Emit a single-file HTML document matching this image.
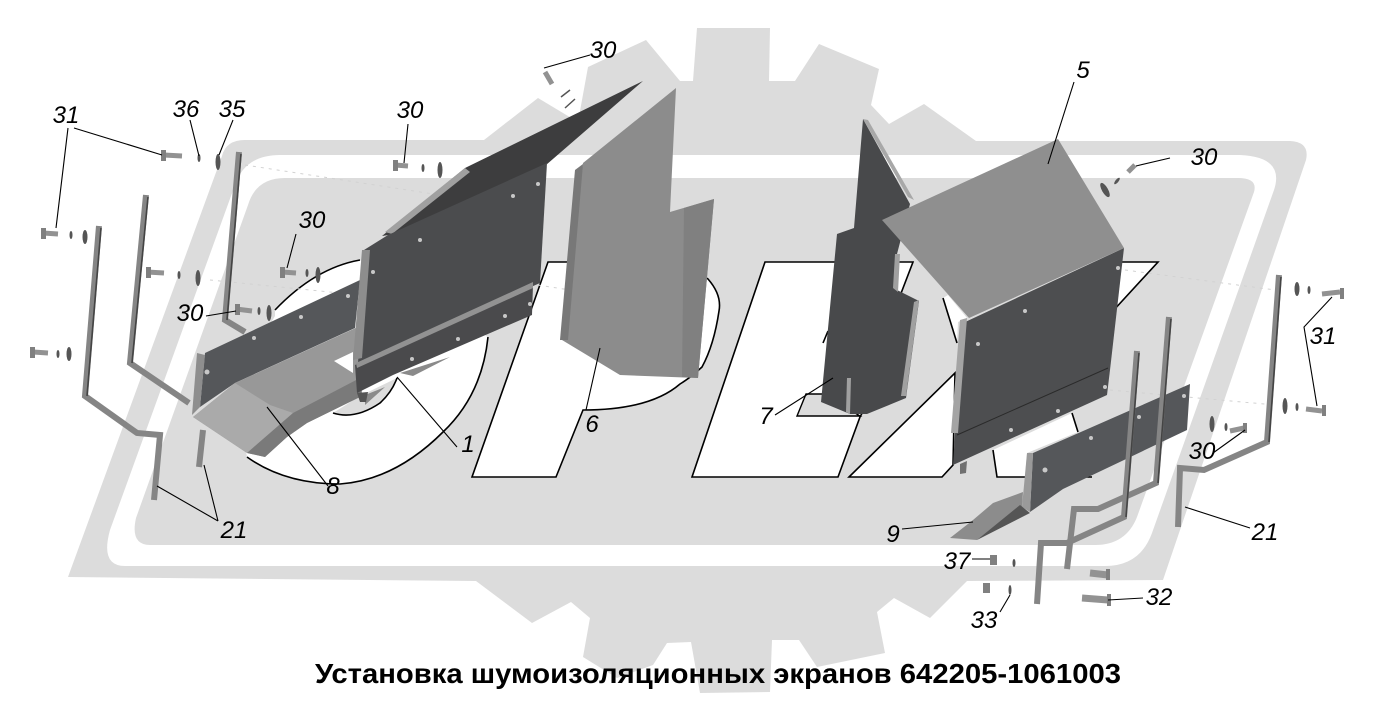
<!DOCTYPE html>
<html><head><meta charset="utf-8"><style>
html,body{margin:0;padding:0;background:#fff;width:1378px;height:722px;overflow:hidden}
svg{display:block}
.l{font:italic 24px "Liberation Sans",sans-serif;fill:#000;text-anchor:middle}
.t{font:bold 28px "Liberation Sans",sans-serif;fill:#000;text-anchor:middle}
.b{fill:none;stroke:#000;stroke-width:1.6}
.n{fill:none;stroke:#000;stroke-width:1.1}
.br{fill:none;stroke:#858585;stroke-width:6;stroke-linejoin:miter}
.brd{fill:none;stroke:#444;stroke-width:1.6}
.bolt{stroke:#929292;stroke-width:5;fill:none}
</style></head><body>
<svg width="1378" height="722" viewBox="0 0 1378 722" xmlns="http://www.w3.org/2000/svg">
<!-- gear and frame -->
<path fill="#dcdcdc" d="M222 156Q226 140 245 140L484 140L538 98L578 122L588 67L646 40L680 81L693 81L697 28L770 28L769 81L795 81L819 44L879 69L871 105L889 124L924 104L976 141L1290 141Q1310 142 1306 160L1163 580L967 581L930 618L894 598L877 612L885 653L817 667L799 640L772 640L770 692L700 693L691 642L667 643L653 665L617 678L583 657L590 618L571 602L532 623L476 581L68 577Z"/>
<path fill="#fff" d="M235 185Q245 155 280 155L1240 155Q1285 157 1274 190L1152 533Q1140 566 1105 566L125 566Q100 566 110 530Z"/>
<path fill="#dcdcdc" d="M248 205Q256 178 285 178L1238 178Q1258 178 1254 192L1137 517Q1126 545 1095 545L150 545Q130 545 136 518Z"/>
<!-- ellipse -->
<path fill="#fff" d="M275 316L275 310Q315 268 360 260L488 337Q482 395 443 432Q395 480 340 484Q285 484 247 457L235 385Z"/>
<path fill="#dcdcdc" d="M333 413Q355 420 380 403Q392 392 397 378L360 396Z"/>
<path class="b" d="M247 457Q285 484 340 484Q395 480 443 432Q482 395 488 337M275 310Q315 268 360 260M333 413Q355 420 380 403Q392 392 397 378"/>
<!-- letters -->
<path fill="#fff" stroke="#000" stroke-width="1.6" d="M548 262L680 262L708 279Q722 295 719 311Q714 345 702 367Q690 378 680 384Q650 410 583 410L556 477L472 477Z"/>
<path fill="#fff" stroke="#000" stroke-width="1.6" d="M765 262L913 262L900 296L880 380L860 417L838 477L692 477Z"/>
<path fill="#dcdcdc" stroke="#000" stroke-width="1.4" d="M797 416L806 394L825 394L860 416Z"/>
<path class="b" d="M823 343L828 331"/>
<path fill="#fff" stroke="#000" stroke-width="1.6" d="M955 373L849 477L942 477L953 465Z"/>
<path fill="#fff" stroke="#000" stroke-width="1.6" d="M1120 262L1158 262L1112 312Z"/>
<path fill="#fff" d="M943 298L948 295L967 318L958 322L957 343Z"/>
<path class="b" d="M943 298L957 343"/>
<path fill="#fff" d="M993 450L1072 413L1078 432L1027 453L1025 477L997 477Z"/>
<path class="b" d="M993 450L997 477L1027 477M1072 413L1078 432M1085 477L1092 477"/>
<!-- dashed axis hints -->
<g stroke="#d2d2d2" stroke-width="1" stroke-dasharray="3 5" fill="none">
<path d="M245 165L440 195M210 280L360 295M538 285L570 290M1125 270L1275 290M1110 390L1275 405"/>
</g>
<!-- left lower panel -->
<path fill="#55575a" d="M205 353L360 280L355 328L235 383L200 407Z"/>
<path fill="#8e8e8e" d="M192 415L197 353L205 355L200 407Z"/>
<path fill="#989898" d="M193 417L235 383L360 326L362 396L307 423L287 437L265 457L247 453Z"/>
<path fill="#aaa" d="M193 417L235 383L270 405L293 413L247 453Z"/>
<path fill="#7a7a7a" d="M247 453L265 457L287 437L307 423L362 396L360 378L293 413Z"/>
<path fill="#fff" d="M334 361L353 352L353 373Z"/>
<path fill="#8a8a8a" d="M400 373L450 357L413 376Z"/>
<path fill="#8a8a8a" d="M365 395L385 387L365 405Z"/>
<path fill="#555" d="M357 393L368 392L366 402L360 402Z"/>
<!-- left upper panel -->
<path fill="#3d3d3e" d="M382 236L465 168L643 81L546 165L395 234Z"/>
<path fill="#a0a0a0" d="M385 232L465 168L470 172L392 234Z"/>
<path fill="#4b4c4e" d="M364 250L388 235L547 163L540 283L358 364Z"/>
<path fill="#8d8d8d" d="M362 250L370 250L362 358L353 360Z"/>
<path fill="#4a4a4c" d="M355 365L533 285L532 315L393 375L357 393Z"/>
<path fill="#929292" d="M356 363L533 282L533 288L357 368Z"/>
<!-- panel 6 -->
<path fill="#8c8c8c" d="M583 163L676 88L670 212L714 199L698 378L620 375L562 340Z"/>
<path fill="#787878" d="M575 170L583 164L568 340L560 340Z"/>
<path fill="#808080" d="M684 208L714 199L698 378L682 377Z"/>
<!-- panel 7 -->
<path fill="#48494b" d="M863 119L910 204L897 254L895 289L919 301L906 398L867 414L850 414L821 402L837 234L854 228Z"/>
<path fill="#a8a8a8" d="M863 119L868 120L914 200L908 197Z"/>
<path fill="#a0a0a0" d="M895 254L900 254L898 292L893 288ZM914 302L919 300L906 396L901 396ZM847 378L851 378L850 414L846 412Z"/>
<!-- panel 5 -->
<path fill="#4d4e50" d="M963 323L1124 248L1110 370L1107 395L953 465L955 434Z"/>
<path fill="#8f8f8f" d="M1058 139L1124 248L969 318L882 220Z"/>
<path fill="#a4a4a4" d="M960 320L967 318L958 433L951 433Z"/>
<path stroke="#2a2a2a" stroke-width="1" d="M957 435L1108 368"/>
<path fill="#707070" d="M960 464L967 461L966 473L960 474Z"/>
<!-- right panel 9 -->
<path fill="#55575a" d="M1033 453L1190 384L1187 430L1063 489L1030 512Z"/>
<path fill="#9a9a9a" d="M1027 453L1033 453L1030 512L1022 507Z"/>
<path fill="#8c8c8c" d="M950 538L973 520L993 503L1023 492L1022 507L977 540Z"/>
<path fill="#555" d="M977 540L1020 505L1030 513Z"/>
<!-- brackets -->
<path class="br" d="M99 226L85 396L137 433L160 435L154 500"/>
<path class="br" d="M146 195L130 363L189 403"/>
<path class="br" d="M239 152L225 320L245 332"/>
<path class="br" d="M203 430L199 467"/>
<path class="br" d="M1279 275L1267 442L1204 470L1180 468L1178 527"/>
<path class="br" d="M1169 317L1156 483L1098 509L1074 509L1067 569"/>
<path class="br" d="M1137 351L1124 517L1067 543L1041 543L1037 604"/>
<path class="brd" d="M101 228L87 396M148 197L132 363M241 154L227 320M1281 277L1269 442M1171 319L1158 483M1139 353L1126 517"/>
<!-- fasteners -->
<g class="bolt">
<path d="M164 155L182 156M43 233L58 234M147 272L164 273M33 352L48 353M395 165L408 166M282 272L296 273M236 309L252 311M545 72L552 84M1135 165L1128 172M1340 292L1322 294M1322 411L1306 409M1244 428L1230 431M995 560L990 560M985 588L988 588"/>
<path d="M1090 573L1108 575M1082 598L1108 600" stroke-width="7"/>
</g>
<g fill="#808080">
<rect x="161" y="150" width="5" height="11"/><rect x="41" y="228" width="5" height="11"/><rect x="146" y="267" width="5" height="11"/><rect x="30" y="347" width="5" height="11"/><rect x="393" y="160" width="5" height="11"/><rect x="280" y="267" width="5" height="11"/><rect x="235" y="304" width="5" height="11"/>
<rect x="1340" y="288" width="4" height="11"/><rect x="1322" y="405" width="4" height="11"/><rect x="1243" y="423" width="4" height="10"/><rect x="1106" y="569" width="4" height="11"/><rect x="1107" y="594" width="4" height="12"/>
<rect x="990" y="555" width="7" height="10"/><rect x="983" y="583" width="7" height="10"/>
</g>
<g fill="#555">
<ellipse cx="218" cy="162" rx="2.5" ry="8"/><ellipse cx="199" cy="158" rx="1.5" ry="4"/>
<ellipse cx="85" cy="237" rx="2.5" ry="7"/><ellipse cx="71" cy="235" rx="1.5" ry="4"/>
<ellipse cx="198" cy="278" rx="2.5" ry="8"/><ellipse cx="179" cy="275" rx="1.5" ry="4"/>
<ellipse cx="69" cy="354" rx="2.5" ry="7"/><ellipse cx="58" cy="354" rx="1.5" ry="4"/>
<ellipse cx="440" cy="170" rx="2.5" ry="8"/><ellipse cx="423" cy="168" rx="1.5" ry="4"/>
<ellipse cx="318" cy="275" rx="2.5" ry="8"/><ellipse cx="307" cy="273" rx="1.5" ry="4"/>
<ellipse cx="269" cy="313" rx="2.5" ry="8"/><ellipse cx="259" cy="311" rx="1.5" ry="4"/>
<ellipse cx="1105" cy="190" rx="3" ry="8" transform="rotate(-30 1105 190)"/><ellipse cx="1117" cy="181" rx="1.5" ry="4" transform="rotate(40 1117 181)"/>
<ellipse cx="1297" cy="289" rx="2.5" ry="7"/><ellipse cx="1309" cy="290" rx="1.5" ry="4"/>
<ellipse cx="1285" cy="406" rx="2.5" ry="8"/><ellipse cx="1297" cy="407" rx="1.5" ry="4"/>
<ellipse cx="1212" cy="424" rx="2.5" ry="8"/><ellipse cx="1226" cy="427" rx="1.5" ry="4"/>
<ellipse cx="1014" cy="563" rx="1.5" ry="4"/><ellipse cx="1010" cy="590" rx="1.5" ry="5"/>
<path d="M561 97L570 90M565 108L575 99" stroke="#555" stroke-width="1.5" fill="none"/>
</g>
<!-- holes -->
<g fill="#c8c8c8">
<circle cx="207" cy="372" r="2.5"/><circle cx="254" cy="338" r="2"/><circle cx="301" cy="317" r="2"/><circle cx="348" cy="296" r="2"/>
<circle cx="373" cy="272" r="2"/><circle cx="420" cy="240" r="2"/><circle cx="513" cy="196" r="2"/><circle cx="538" cy="184" r="2"/>
<circle cx="412" cy="359" r="2"/><circle cx="458" cy="339" r="2"/><circle cx="505" cy="316" r="2"/><circle cx="530" cy="304" r="2"/>
<circle cx="978" cy="344" r="2"/><circle cx="1025" cy="311" r="2"/><circle cx="1118" cy="268" r="2"/><circle cx="1058" cy="411" r="2"/><circle cx="1105" cy="387" r="2"/><circle cx="1011" cy="430" r="2"/>
<circle cx="1045" cy="470" r="2.5"/><circle cx="1091" cy="438" r="2"/><circle cx="1139" cy="417" r="2"/><circle cx="1184" cy="396" r="2"/>
</g>
<!-- leaders -->
<g class="n">
<path d="M74 128L162 155M68 128L56 228M190 120L199 156M233 120L219 155M408 124L404 163M296 234L287 268M206 316L236 311M590 55L544 68M1074 82L1048 164M1170 158L1136 166M775 415L833 378M902 529L973 522M1332 297L1304 327L1317 406M1213 453L1245 430M1250 528L1185 507M972 559L990 559M1010 595L1000 612M1143 598L1108 600M457 447L397 377M328 486L267 407M218 521L157 486M218 521L204 465M586 410L600 348"/>
</g>
<!-- labels -->
<text class="l" x="603" y="58">30</text>
<text class="l" x="66" y="123">31</text>
<text class="l" x="186" y="117">36</text>
<text class="l" x="232" y="117">35</text>
<text class="l" x="410" y="118">30</text>
<text class="l" x="312" y="228">30</text>
<text class="l" x="190" y="321">30</text>
<text class="l" x="468" y="452">1</text>
<text class="l" x="592" y="432">6</text>
<text class="l" x="333" y="494">8</text>
<text class="l" x="234" y="538">21</text>
<text class="l" x="766" y="424">7</text>
<text class="l" x="1083" y="78">5</text>
<text class="l" x="1204" y="165">30</text>
<text class="l" x="1323" y="344">31</text>
<text class="l" x="1202" y="459">30</text>
<text class="l" x="1265" y="540">21</text>
<text class="l" x="893" y="542">9</text>
<text class="l" x="957" y="569">37</text>
<text class="l" x="984" y="628">33</text>
<text class="l" x="1159" y="605">32</text>
<text class="t" x="718" y="683" textLength="806" lengthAdjust="spacingAndGlyphs">Установка шумоизоляционных экранов 642205-1061003</text>
</svg>
</body></html>
